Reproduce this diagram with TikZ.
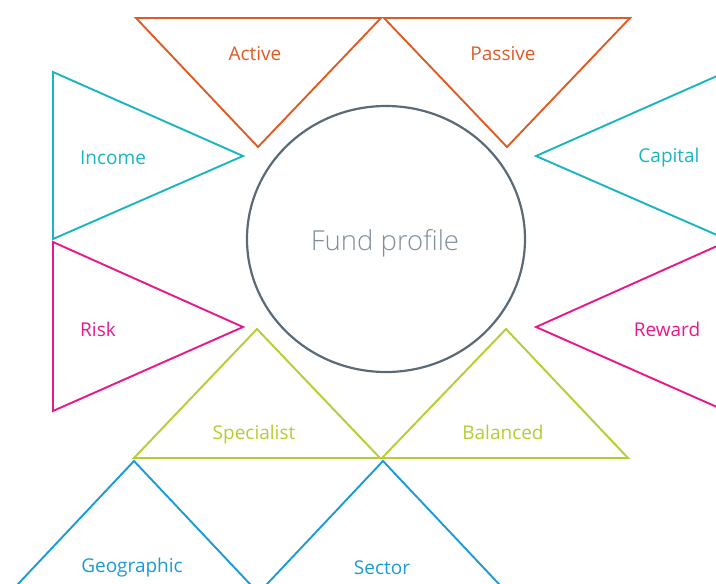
\documentclass[tikz,border=0pt]{standalone}
\usepackage{fontspec}
\setmainfont{Open Sans}
\newfontfamily\lightfont{Open Sans Light}
\usetikzlibrary{shapes.geometric}
\definecolor{cOrange}{HTML}{E05A24}
\definecolor{cCyan}{HTML}{19B5C2}
\definecolor{cMagenta}{HTML}{E8178C}
\definecolor{cLime}{HTML}{B6CC30}
\definecolor{cBlue}{HTML}{1B9AD8}
\definecolor{cGrey}{HTML}{5A6A77}
\definecolor{cGreyText}{HTML}{7F8E9B}
\tikzset{
  tri/.style={line width=1.9pt, line join=miter},
  lbl/.style={font=\fontsize{19}{21}\selectfont, inner sep=0pt, anchor=base},
}
\begin{document}
\begin{tikzpicture}[x=1pt,y=-1pt]
\useasboundingbox (0,0) rectangle (716,584);
\clip (0,0) rectangle (716,584);
% Active
\coordinate (a1) at (136,18); \coordinate (a2) at (381,18); \coordinate (a3) at (258,147);
\draw[tri,cOrange] (a1) -- (a2) -- (a3) -- cycle;
\node[lbl,text=cOrange] (active) at (255,60) {Active};
% Passive
\coordinate (p1) at (384,18); \coordinate (p2) at (630,18); \coordinate (p3) at (507,147);
\draw[tri,cOrange] (p1) -- (p2) -- (p3) -- cycle;
\node[lbl,text=cOrange] (passive) at (503,60) {Passive};
% Income
\coordinate (i1) at (53,72); \coordinate (i2) at (53,239); \coordinate (i3) at (243,156);
\draw[tri,cCyan] (i1) -- (i3) -- (i2) -- cycle;
\node[lbl,text=cCyan] (income) at (113,164) {Income};
% Capital
\coordinate (c1) at (726,72); \coordinate (c2) at (726,239); \coordinate (c3) at (536,156);
\draw[tri,cCyan] (c1) -- (c3) -- (c2) -- cycle;
\node[lbl,text=cCyan] (capital) at (669,162) {Capital};
% Risk
\coordinate (r1) at (53,242); \coordinate (r2) at (53,411); \coordinate (r3) at (243,327);
\draw[tri,cMagenta] (r1) -- (r3) -- (r2) -- cycle;
\node[lbl,text=cMagenta] (risk) at (98,336) {Risk};
% Reward
\coordinate (w1) at (726,242); \coordinate (w2) at (726,411); \coordinate (w3) at (536,327);
\draw[tri,cMagenta] (w1) -- (w3) -- (w2) -- cycle;
\node[lbl,text=cMagenta] (reward) at (667,336) {Reward};
% Specialist
\coordinate (s1) at (134,458); \coordinate (s2) at (380,458); \coordinate (s3) at (257,329);
\draw[tri,cLime] (s1) -- (s3) -- (s2) -- cycle;
\node[lbl,text=cLime] (specialist) at (254,439) {Specialist};
% Balanced
\coordinate (b1) at (382,458); \coordinate (b2) at (628,458); \coordinate (b3) at (506,329);
\draw[tri,cLime] (b1) -- (b3) -- (b2) -- cycle;
\node[lbl,text=cLime] (balanced) at (503,439) {Balanced};
% Geographic
\coordinate (g1) at (3,600); \coordinate (g2) at (265,600); \coordinate (g3) at (134,461);
\draw[tri,cBlue] (g1) -- (g3) -- (g2);
\node[lbl,text=cBlue] (geographic) at (132,572) {Geographic};
% Sector
\coordinate (t1) at (252,600); \coordinate (t2) at (514,600); \coordinate (t3) at (383,461);
\draw[tri,cBlue] (t1) -- (t3) -- (t2);
\node[lbl,text=cBlue] (sector) at (382,574) {Sector};
% Fund profile
\node[ellipse, draw=cGrey, line width=2.2pt, minimum width=278pt, minimum height=266pt, inner sep=0pt] (fund) at (386,239) {};
\node[font=\lightfont\fontsize{27.5}{30}\selectfont, text=cGreyText, inner sep=0pt, anchor=base] (fundlbl) at (385,250) {Fund profile};
\end{tikzpicture}
\end{document}
